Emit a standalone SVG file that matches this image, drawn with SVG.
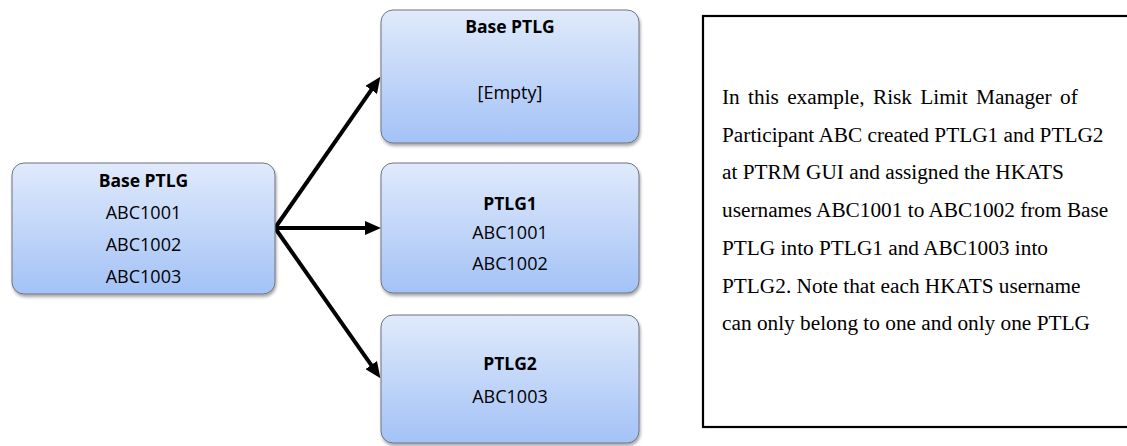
<svg xmlns="http://www.w3.org/2000/svg" width="1127" height="446" viewBox="0 0 1127 446">
  <defs>
    <linearGradient id="boxGrad" x1="0" y1="0" x2="0" y2="1">
      <stop offset="0" stop-color="#e0eafb"/>
      <stop offset="1" stop-color="#a3c2f6"/>
    </linearGradient>
    <filter id="shadow" x="-10%" y="-10%" width="120%" height="130%">
      <feDropShadow dx="1" dy="2.5" stdDeviation="1.5" flood-color="#000" flood-opacity="0.35"/>
    </filter>
    <marker id="arrow" markerUnits="userSpaceOnUse" markerWidth="16" markerHeight="14" refX="5" refY="7" orient="auto">
      <path d="M0,0 L16,7 L0,14 z" fill="#000"/>
    </marker>
  </defs>
  <style>
    .box { fill: url(#boxGrad); stroke: #6f7580; stroke-width: 1; filter: url(#shadow); }
    .t { font-family: "Open Sans", "Liberation Sans", sans-serif; font-size: 18px; fill: #000; text-anchor: middle; }
    .b { font-weight: bold; font-size: 17.5px; }
    .conn { stroke: #000; stroke-width: 4; fill: none; marker-end: url(#arrow); }
    .note { font-family: "Liberation Serif", "Times New Roman", serif; font-size: 21.3px; fill: #000; }
  </style>

  <g id="connectors">
    <line class="conn" x1="275" y1="228" x2="374.1" y2="85.8"/>
    <line class="conn" x1="275" y1="228" x2="370" y2="228"/>
    <line class="conn" x1="275" y1="228" x2="374.1" y2="369.2"/>
  </g>

  <g id="node-base-left">
    <rect class="box" x="12" y="163" width="263" height="131" rx="12" ry="12"/>
    <text class="t b" x="143.5" y="187">Base PTLG</text>
    <text class="t" x="143.5" y="219">ABC1001</text>
    <text class="t" x="143.5" y="251">ABC1002</text>
    <text class="t" x="143.5" y="283">ABC1003</text>
  </g>

  <g id="node-base-top">
    <rect class="box" x="381" y="10" width="258" height="133" rx="12" ry="12"/>
    <text class="t b" x="510" y="33">Base PTLG</text>
    <text class="t" x="510" y="99">[Empty]</text>
  </g>

  <g id="node-ptlg1">
    <rect class="box" x="381" y="163" width="258" height="130" rx="12" ry="12"/>
    <text class="t b" x="510" y="210">PTLG1</text>
    <text class="t" x="510" y="239">ABC1001</text>
    <text class="t" x="510" y="270">ABC1002</text>
  </g>

  <g id="node-ptlg2">
    <rect class="box" x="381" y="315" width="258" height="128" rx="12" ry="12"/>
    <text class="t b" x="510" y="370">PTLG2</text>
    <text class="t" x="510" y="403">ABC1003</text>
  </g>

  <g id="note">
    <rect x="703" y="16" width="440" height="411" fill="#fff" stroke="#000" stroke-width="2.2"/>
    <text class="note" x="722" y="104" word-spacing="3">In this example, Risk Limit Manager of</text>
    <text class="note" x="722" y="141.7">Participant ABC created PTLG1 and PTLG2</text>
    <text class="note" x="722" y="179.4">at PTRM GUI and assigned the HKATS</text>
    <text class="note" x="722" y="217.1">usernames ABC1001 to ABC1002 from Base</text>
    <text class="note" x="722" y="254.8">PTLG into PTLG1 and ABC1003 into</text>
    <text class="note" x="722" y="292.5">PTLG2. Note that each HKATS username</text>
    <text class="note" x="722" y="330.2">can only belong to one and only one PTLG</text>
  </g>
</svg>
